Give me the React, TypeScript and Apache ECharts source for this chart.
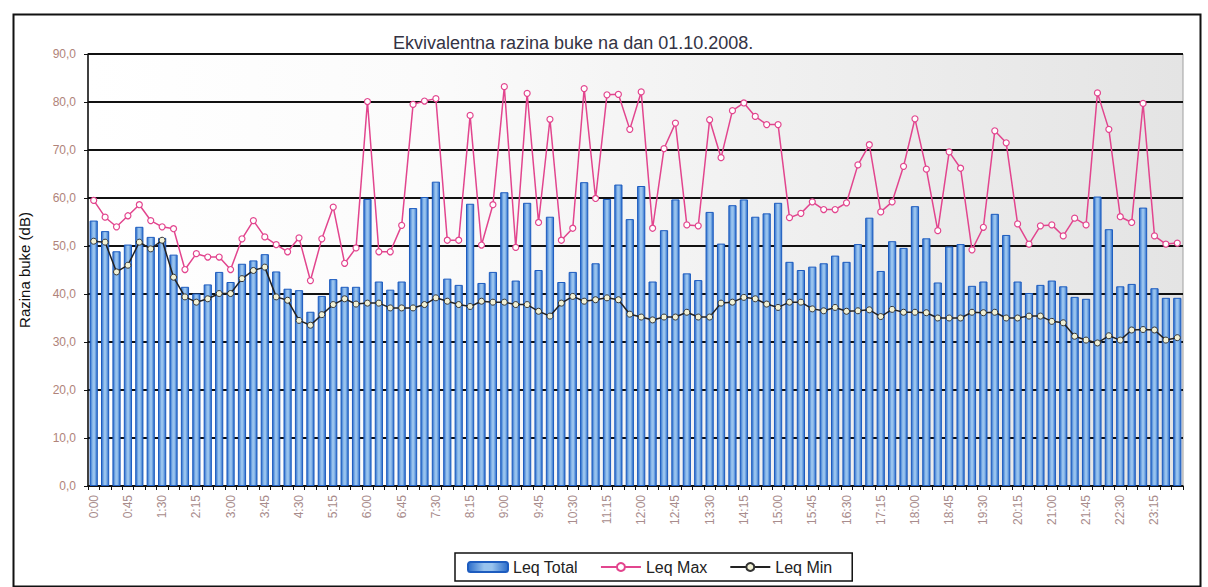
import React, { useEffect, useRef } from "react";
import * as echarts from "echarts";

const categories: string[] = [];
for (let h = 0; h < 24; h++) {
  for (const m of ["00", "15", "30", "45"]) categories.push(`${h}:${m}`);
}

const leqTotal = [
  55.3, 53.1, 48.9, 50.3, 54.0, 51.9, 51.7, 48.2, 41.5, 40.1, 42.0, 44.6,
  42.5, 46.3, 47.0, 48.3, 44.7, 41.1, 40.8, 36.3, 39.6, 43.1, 41.5, 41.5,
  59.8, 42.6, 40.9, 42.6, 57.9, 60.2, 63.4, 43.2, 41.9, 58.8, 42.3, 44.6,
  61.2, 42.8, 59.0, 45.0, 56.1, 42.5, 44.6, 63.3, 46.4, 59.8, 62.8, 55.6,
  62.5, 42.6, 53.3, 59.7, 44.3, 42.9, 57.1, 50.5, 58.5, 59.7, 56.1, 56.8,
  59.0, 46.7, 45.0, 45.7, 46.4, 48.0, 46.7, 50.4, 55.9, 44.8, 51.0, 49.6,
  58.3, 51.6, 42.4, 49.9, 50.4, 41.7, 42.6, 56.7, 52.3, 42.6, 40.2, 41.9,
  42.8, 41.6, 39.4, 39.0, 60.3, 53.5, 41.6, 42.1, 58.0, 41.2, 39.2, 39.2,
];

const leqMax = [
  59.5, 56.0, 54.0, 56.3, 58.6, 55.3, 54.0, 53.6, 45.1, 48.4, 47.7, 47.7,
  45.1, 51.5, 55.3, 51.9, 50.3, 48.8, 51.7, 42.8, 51.5, 58.1, 46.4, 49.6,
  80.1, 48.8, 48.8, 54.3, 79.5, 80.2, 80.7, 51.2, 51.2, 77.2, 50.2, 58.6,
  83.2, 49.7, 81.8, 54.9, 76.4, 51.2, 53.7, 82.8, 59.9, 81.5, 81.6, 74.3,
  82.1, 53.7, 70.3, 75.6, 54.4, 54.2, 76.3, 68.4, 78.2, 79.8, 77.0, 75.3,
  75.3, 55.9, 56.8, 59.2, 57.6, 57.6, 59.0, 66.9, 71.1, 57.1, 59.2, 66.6,
  76.5, 66.0, 53.2, 69.6, 66.2, 49.2, 53.9, 74.0, 71.5, 54.6, 50.4, 54.2,
  54.4, 52.1, 55.8, 54.4, 81.9, 74.3, 56.1, 54.9, 79.7, 52.1, 50.4, 50.6,
];

const leqMin = [
  51.0, 50.8, 44.6, 46.0, 50.8, 49.4, 51.2, 43.5, 39.4, 38.3, 39.0, 40.1,
  40.1, 43.2, 44.9, 45.6, 39.4, 38.7, 34.5, 33.5, 35.7, 37.8, 39.0, 37.9,
  38.1, 38.1, 37.1, 37.1, 37.1, 37.8, 39.2, 38.5, 37.8, 37.4, 38.5, 38.3,
  38.3, 37.8, 37.8, 36.4, 35.4, 38.1, 39.5, 38.5, 38.8, 39.2, 38.8, 35.8,
  35.2, 34.6, 35.2, 35.2, 36.2, 35.2, 35.2, 38.1, 38.3, 39.3, 39.0, 37.9,
  37.2, 38.3, 38.3, 36.9, 36.5, 37.2, 36.4, 36.5, 36.7, 35.3, 36.8, 36.2,
  36.2, 36.1, 35.0, 35.0, 35.0, 36.2, 36.1, 36.2, 35.0, 35.0, 35.4, 35.4,
  34.3, 34.0, 31.2, 30.4, 29.8, 31.3, 30.4, 32.5, 32.6, 32.5, 30.4, 30.9,
];

const FONT = "'Liberation Sans', Arial, sans-serif";

export default function App() {
  const ref = useRef<HTMLDivElement>(null);

  useEffect(() => {
    if (!ref.current) return;
    const chart = echarts.init(ref.current, undefined, { renderer: "svg" });
    const barGrad = new echarts.graphic.LinearGradient(0, 0, 1, 0, [
      { offset: 0, color: "#2a6cca" },
      { offset: 0.4, color: "#98c3ee" },
      { offset: 0.6, color: "#98c3ee" },
      { offset: 1, color: "#2a6cca" },
    ]);
    chart.setOption({
      animation: false,
      backgroundColor: "#ffffff",
      title: {
        text: "Ekvivalentna razina buke na dan 01.10.2008.",
        left: 388,
        top: 29,
        textStyle: {
          fontFamily: FONT,
          fontSize: 18,
          fontWeight: "normal",
          color: "#333344",
        },
      },
      grid: {
        left: 88,
        right: 25,
        top: 54,
        bottom: 101,
        show: true,
        borderColor: "#a0a0a0",
        borderWidth: 1,
        backgroundColor: new echarts.graphic.LinearGradient(0, 0, 1, 0, [
          { offset: 0, color: "#ffffff" },
          { offset: 0.3, color: "#fbfbfb" },
          { offset: 1, color: "#e4e4e4" },
        ]),
      },
      legend: {
        left: 455,
        top: 553,
        orient: "horizontal",
        backgroundColor: "#ffffff",
        borderColor: "#111111",
        borderWidth: 1.5,
        padding: [6, 20, 6, 12],
        itemGap: 22,
        itemWidth: 40,
        itemHeight: 10,
        textStyle: { fontFamily: FONT, fontSize: 16, color: "#222222" },
        data: ["Leq Total", "Leq Max", "Leq Min"],
      },
      xAxis: {
        type: "category",
        data: categories,
        boundaryGap: true,
        axisLine: { show: true, lineStyle: { color: "#111111", width: 1.5 } },
        axisTick: { show: true, interval: 0, length: 4, lineStyle: { color: "#111111" } },
        axisLabel: {
          interval: 2,
          rotate: 90,
          color: "#a88c8c",
          fontFamily: FONT,
          fontSize: 12,
          margin: 9,
        },
        splitLine: { show: false },
      },
      yAxis: {
        type: "value",
        min: 0,
        max: 90,
        interval: 10,
        name: "Razina buke (dB)",
        nameLocation: "middle",
        nameGap: 56,
        nameRotate: 90,
        nameTextStyle: { fontFamily: FONT, fontSize: 15, color: "#111111" },
        axisLine: { show: true, lineStyle: { color: "#111111", width: 1.5 } },
        axisTick: { show: true, length: 4, lineStyle: { color: "#111111" } },
        axisLabel: {
          color: "#b0837a",
          fontFamily: FONT,
          fontSize: 12,
          margin: 12,
          formatter: (v: number) => v.toFixed(1).replace(".", ","),
        },
        splitLine: { show: true, lineStyle: { color: "#111111", width: 2 } },
      },
      series: [
        {
          name: "Leq Total",
          type: "bar",
          data: leqTotal,
          barWidth: "72%",
          itemStyle: { color: barGrad, borderColor: "#1d5cbf", borderWidth: 1 },
        },
        {
          name: "Leq Max",
          type: "line",
          data: leqMax,
          symbol: "circle",
          symbolSize: 6,
          showAllSymbol: true,
          lineStyle: { color: "#e2458e", width: 1.5 },
          itemStyle: { color: "#ffffff", borderColor: "#e2458e", borderWidth: 1.2 },
        },
        {
          name: "Leq Min",
          type: "line",
          data: leqMin,
          symbol: "circle",
          symbolSize: 6,
          showAllSymbol: true,
          lineStyle: { color: "#222222", width: 1.5 },
          itemStyle: { color: "#f2f2d6", borderColor: "#333333", borderWidth: 1 },
        },
      ],
      graphic: [
        {
          type: "rect",
          left: 11,
          top: 12,
          shape: { x: 0, y: 0, width: 1187, height: 572 },
          style: { fill: "none", stroke: "#111111", lineWidth: 2 },
          silent: true,
        },
      ],
    });
    return () => chart.dispose();
  }, []);

  return (
    <div
      ref={ref}
      style={{ position: "absolute", left: 0, top: 0, width: 1208, height: 587 }}
    />
  );
}
